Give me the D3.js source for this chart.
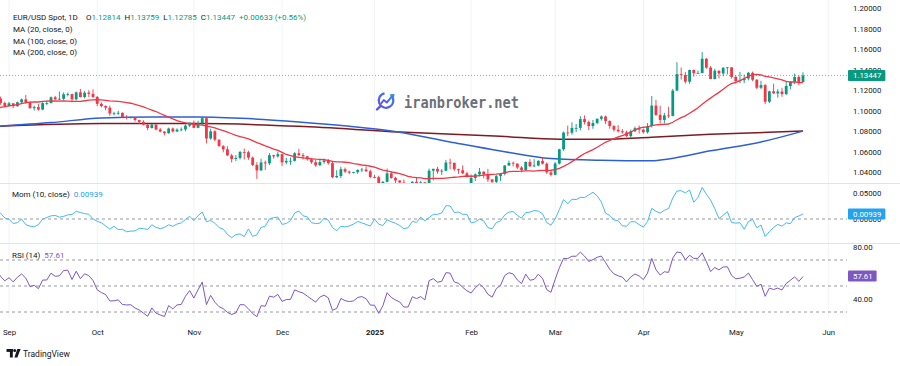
<!DOCTYPE html>
<html>
<head>
<meta charset="utf-8">
<script src="https://cdn.jsdelivr.net/npm/d3@7"></script>
<style>
  html, body { margin: 0; padding: 0; background: #fff; }
  svg { display: block; }
</style>
</head>
<body>
<div id="chart"></div>
<script>
// ---- data (EUR/USD daily) ----

// July 2024 closes, only used to warm up the indicators
const warmupCloses = [1.0740,1.0742,1.0790,1.0810,1.0840,1.0826,1.0813,1.0830,1.0865,1.0907,1.0895,1.0898,1.0937,1.0898,1.0884,1.0890,1.0845,1.0842,1.0851,1.0855,1.0818,1.0815,1.0826];

// one value per trading day, 2024-08-01 .. 2025-05-23 (one line per month)
const opens = [
  1.0826,1.0790,1.0911,1.0955,1.0930,1.0923,1.0919,1.0916,1.0932,1.0993,1.1012,1.0967,1.1028,1.1077,1.1130,1.1152,1.1112,1.1193,1.1161,1.1183,1.1119,1.1077,
  1.1047,1.1073,1.1045,1.1083,1.1111,1.1085,1.1026,1.1036,1.1012,1.1075,1.1076,1.1132,1.1113,1.1117,1.1161,1.1163,1.1112,1.1180,1.1134,1.1177,1.1165,
  1.1135,1.1068,1.1046,1.1030,1.0974,1.0975,1.0980,1.0940,1.0936,1.0937,1.0910,1.0892,1.0864,1.0832,1.0866,1.0817,1.0797,1.0781,1.0827,1.0798,1.0816,1.0818,1.0855,
  1.0884,1.0834,1.0879,1.0928,1.0730,1.0800,1.0718,1.0655,1.0624,1.0565,1.0530,1.0540,1.0598,1.0596,1.0543,1.0472,1.0418,1.0496,1.0487,1.0567,1.0555,
  1.0577,1.0497,1.0511,1.0512,1.0586,1.0568,1.0556,1.0527,1.0498,1.0468,1.0500,1.0513,1.0489,1.0352,1.0364,1.0430,1.0407,1.0397,1.0401,1.0422,1.0427,1.0410,
  1.0354,1.0352,1.0266,1.0307,1.0390,1.0345,1.0320,1.0300,1.0244,1.0245,1.0307,1.0290,1.0302,1.0273,1.0416,1.0434,1.0407,1.0415,1.0495,1.0492,1.0430,1.0420,1.0390,
  1.0240,1.0345,1.0380,1.0406,1.0380,1.0330,1.0307,1.0362,1.0385,1.0466,1.0492,1.0485,1.0447,1.0422,1.0501,1.0459,1.0466,1.0511,1.0484,1.0399,
  1.0376,1.0485,1.0624,1.0788,1.0786,1.0833,1.0833,1.0919,1.0890,1.0851,1.0881,1.0922,1.0944,1.0900,1.0851,1.0815,1.0800,1.0790,1.0753,1.0800,1.0830,
  1.0816,1.0791,1.0852,1.1051,1.0960,1.0911,1.0955,1.0950,1.1197,1.1357,1.1350,1.1284,1.1398,1.1367,1.1368,1.1508,1.1421,1.1310,1.1391,1.1364,1.1420,1.1424,
  1.1330,1.1290,1.1298,1.1315,1.1371,1.1303,1.1225,1.1251,1.1088,1.1190,1.1170,1.1188,1.1163,1.1242,1.1283,1.1330,1.12814
];
const highs = [
  1.0838,1.0926,1.1009,1.0971,1.0947,1.0945,1.0935,1.0943,1.0998,1.1047,1.1027,1.1047,1.1087,1.1135,1.1174,1.1171,1.1201,1.1202,1.1198,1.1189,1.1139,1.1090,
  1.1087,1.1075,1.1090,1.1120,1.1155,1.1090,1.1051,1.1067,1.1085,1.1101,1.1140,1.1145,1.1189,1.1180,1.1179,1.1167,1.1188,1.1214,1.1194,1.1201,1.1209,
  1.1144,1.1083,1.1054,1.1050,1.0990,1.0999,1.0985,1.0958,1.0945,1.0940,1.0912,1.0908,1.0870,1.0870,1.0868,1.0834,1.0801,1.0836,1.0837,1.0829,1.0838,1.0869,1.0885,
  1.0905,1.0903,1.0937,1.0937,1.0826,1.0810,1.0721,1.0665,1.0653,1.0581,1.0568,1.0608,1.0632,1.0610,1.0554,1.0498,1.0532,1.0515,1.0589,1.0571,1.0597,
  1.0580,1.0541,1.0545,1.0597,1.0630,1.0588,1.0560,1.0540,1.0520,1.0522,1.0535,1.0529,1.0512,1.0420,1.0455,1.0446,1.0417,1.0405,1.0430,1.0444,1.0458,1.0425,
  1.0375,1.0367,1.0314,1.0437,1.0406,1.0357,1.0323,1.0330,1.0260,1.0313,1.0353,1.0318,1.0305,1.0436,1.0434,1.0454,1.0432,1.0521,1.0533,1.0495,1.0436,1.0468,1.0405,
  1.0378,1.0390,1.0442,1.0410,1.0432,1.0335,1.0375,1.0385,1.0470,1.0514,1.0505,1.0485,1.0461,1.0505,1.0528,1.0528,1.0519,1.0544,1.0497,1.0420,
  1.0500,1.0630,1.0797,1.0855,1.0888,1.0871,1.0947,1.0955,1.0905,1.0911,1.0925,1.0955,1.0953,1.0907,1.0859,1.0860,1.0822,1.0807,1.0817,1.0846,1.0857,
  1.0826,1.0880,1.1144,1.1107,1.1050,1.0980,1.1040,1.1214,1.1474,1.1423,1.1379,1.1402,1.1402,1.1392,1.1573,1.1513,1.1436,1.1410,1.1394,1.1425,1.1426,1.1426,
  1.1347,1.1380,1.1353,1.1380,1.1382,1.1310,1.1293,1.1260,1.1196,1.1265,1.1212,1.1225,1.1287,1.1288,1.1363,1.1346,1.13759
];
const lows = [
  1.0777,1.0780,1.0881,1.0913,1.0902,1.0884,1.0906,1.0912,1.0925,1.0990,1.0948,1.0965,1.1024,1.1069,1.1106,1.1104,1.1102,1.1141,1.1147,1.1103,1.1059,1.1034,
  1.1043,1.1026,1.1040,1.1072,1.1070,1.1020,1.1002,1.1001,1.1005,1.1055,1.1071,1.1105,1.1101,1.1103,1.1141,1.1082,1.1101,1.1131,1.1120,1.1134,1.1124,
  1.1045,1.1033,1.1005,1.0950,1.0955,1.0960,1.0929,1.0915,1.0925,1.0895,1.0872,1.0857,1.0811,1.0828,1.0811,1.0790,1.0761,1.0777,1.0788,1.0793,1.0800,1.0800,1.0840,
  1.0831,1.0830,1.0861,1.0682,1.0718,1.0702,1.0650,1.0595,1.0560,1.0496,1.0509,1.0525,1.0524,1.0522,1.0461,1.0335,1.0415,1.0424,1.0471,1.0534,1.0543,
  1.0460,1.0478,1.0473,1.0505,1.0557,1.0525,1.0513,1.0482,1.0453,1.0464,1.0484,1.0474,1.0342,1.0343,1.0343,1.0392,1.0383,1.0390,1.0385,1.0401,1.0404,1.0343,
  1.0342,1.0226,1.0256,1.0301,1.0337,1.0283,1.0286,1.0214,1.0178,1.0234,1.0278,1.0270,1.0266,1.0265,1.0322,1.0386,1.0374,1.0410,1.0430,1.0414,1.0385,1.0382,1.0350,
  1.0141,1.0315,1.0360,1.0340,1.0305,1.0285,1.0286,1.0316,1.0370,1.0464,1.0457,1.0433,1.0400,1.0418,1.0450,1.0449,1.0458,1.0476,1.0385,1.0360,
  1.0370,1.0477,1.0611,1.0752,1.0766,1.0792,1.0808,1.0867,1.0812,1.0824,1.0870,1.0904,1.0870,1.0825,1.0797,1.0787,1.0777,1.0745,1.0733,1.0792,1.0778,
  1.0777,1.0778,1.0837,1.0950,1.0880,1.0875,1.0930,1.0946,1.1195,1.1304,1.1265,1.1264,1.1334,1.1365,1.1368,1.1410,1.1310,1.1306,1.1315,1.1336,1.1355,1.1315,
  1.1266,1.1270,1.1270,1.1297,1.1290,1.1212,1.1210,1.1065,1.1075,1.1166,1.1128,1.1137,1.1155,1.1210,1.1260,1.1250,1.12785
];
const closes = [
  1.0790,1.0911,1.0955,1.0930,1.0923,1.0919,1.0916,1.0932,1.0993,1.1012,1.0967,1.1028,1.1077,1.1130,1.1152,1.1112,1.1193,1.1161,1.1183,1.1119,1.1077,1.1047,
  1.1073,1.1045,1.1083,1.1111,1.1085,1.1026,1.1036,1.1012,1.1075,1.1076,1.1132,1.1113,1.1117,1.1161,1.1163,1.1112,1.1180,1.1134,1.1177,1.1165,1.1135,
  1.1068,1.1046,1.1030,1.0974,1.0975,1.0980,1.0940,1.0936,1.0937,1.0910,1.0892,1.0864,1.0832,1.0866,1.0817,1.0797,1.0781,1.0827,1.0798,1.0816,1.0818,1.0855,1.0884,
  1.0834,1.0879,1.0928,1.0730,1.0800,1.0718,1.0655,1.0624,1.0565,1.0530,1.0540,1.0598,1.0596,1.0543,1.0472,1.0418,1.0496,1.0487,1.0567,1.0555,1.0577,
  1.0497,1.0511,1.0512,1.0586,1.0568,1.0556,1.0527,1.0498,1.0468,1.0500,1.0513,1.0489,1.0352,1.0364,1.0430,1.0407,1.0397,1.0401,1.0422,1.0427,1.0410,1.0354,
  1.0352,1.0266,1.0307,1.0390,1.0345,1.0320,1.0300,1.0244,1.0245,1.0307,1.0290,1.0302,1.0273,1.0416,1.0434,1.0407,1.0415,1.0495,1.0492,1.0430,1.0420,1.0390,1.0362,
  1.0345,1.0380,1.0406,1.0380,1.0330,1.0307,1.0362,1.0385,1.0466,1.0492,1.0485,1.0447,1.0422,1.0501,1.0459,1.0466,1.0511,1.0484,1.0399,1.0376,
  1.0485,1.0624,1.0788,1.0786,1.0833,1.0833,1.0919,1.0890,1.0851,1.0881,1.0922,1.0944,1.0900,1.0851,1.0815,1.0800,1.0790,1.0753,1.0800,1.0830,1.0816,
  1.0791,1.0852,1.1051,1.0960,1.0911,1.0955,1.0950,1.1197,1.1357,1.1350,1.1284,1.1398,1.1367,1.1368,1.1508,1.1421,1.1310,1.1391,1.1364,1.1420,1.1424,1.1330,
  1.1290,1.1298,1.1315,1.1371,1.1303,1.1225,1.12508,1.1088,1.1190,1.1170,1.1188,1.1163,1.1242,1.1283,1.1330,1.12814,1.13447
];

// MA(100) and MA(200) at sample dates
const maDates100 = ["2024-08-28","2024-09-16","2024-10-02","2024-10-18","2024-11-04","2024-11-20","2024-12-06","2024-12-24","2025-01-07","2025-01-27","2025-02-12","2025-02-28","2025-03-18","2025-04-03","2025-04-09","2025-04-23","2025-05-09","2025-05-23"];
const ma100Vals  = [1.0848,1.0885,1.0930,1.0940,1.0940,1.0924,1.0891,1.0849,1.0803,1.0696,1.0608,1.0534,1.0517,1.0512,1.0530,1.0610,1.0696,1.0802];
const maDates200 = ["2024-08-28","2024-10-02","2024-11-04","2024-12-06","2025-01-09","2025-02-12","2025-03-04","2025-03-18","2025-04-03","2025-04-23","2025-05-23"];
const ma200Vals  = [1.0848,1.0875,1.0875,1.0849,1.0793,1.0751,1.0722,1.0722,1.0742,1.0771,1.0803];

const monthTicks  = ["2024-09-02","2024-10-01","2024-11-01","2024-12-02","2025-01-01","2025-02-03","2025-03-03","2025-04-01","2025-05-01","2025-06-02"];
const monthLabels = ["Sep","Oct","Nov","Dec","2025","Feb","Mar","Apr","May","Jun"];
const priceTicks = [1.02,1.04,1.06,1.08,1.10,1.12,1.14,1.16,1.18,1.20];
const momTicks = [0, 0.05];
const rsiTicks = [40, 60, 80];
const rsiBands = [70, 50, 30];
const rsiLast = 57.61;

// ---- layout ----
const W = 900, H = 366;
const plotRight = 847;
const mainBottom = 183, momBottom = 243, rsiBottom = 318;
const font = "Roboto, 'Noto Sans', sans-serif";
const dark = "#131722";
const upCol = "#089981", downCol = "#f23645";
const momCol = "#45b9f0", momBox = "#22a3f0";
const rsiCol = "#7e57c2";

// trading days (weekdays) from the first bar on
const fmtDay = d3.timeFormat("%Y-%m-%d");
const days = d3.timeDay.range(new Date(2024, 7, 1), new Date(2025, 5, 7))
  .filter(d => d.getDay() !== 0 && d.getDay() !== 6);
const dayIndex = new Map(days.map((d, i) => [fmtDay(d), i]));

const x = d3.scaleLinear()
  .domain([dayIndex.get("2024-09-02"), dayIndex.get("2025-05-23")])
  .range([9, 803]);
const y = d3.scaleLinear().domain([1.04, 1.20]).range([172.3, 8.3]);
const yMom = d3.scaleLinear().domain([0, 0.05]).range([219, 192.5]);
const yRsi = d3.scaleLinear().domain([30, 70]).range([312, 260]);

// ---- indicators ----
const allCloses = warmupCloses.concat(closes);
const off = warmupCloses.length;

const bars = closes.map((c, i) => ({ i, o: opens[i], h: highs[i], l: lows[i], c }));

const ma20 = bars.map(b => {
  const k = off + b.i;
  return { i: b.i, v: d3.mean(allCloses.slice(k - 19, k + 1)) };
});
const mom = bars.map(b => ({ i: b.i, v: allCloses[off + b.i] - allCloses[off + b.i - 10] }));

function rsi(src, len) {
  const out = new Array(src.length).fill(null);
  let up = 0, dn = 0;
  for (let k = 1; k < src.length; k++) {
    const ch = src[k] - src[k - 1];
    const u = Math.max(ch, 0), d = Math.max(-ch, 0);
    if (k <= len) {
      up += u; dn += d;
      if (k < len) continue;
      up /= len; dn /= len;
    } else {
      up = (up * (len - 1) + u) / len;
      dn = (dn * (len - 1) + d) / len;
    }
    out[k] = dn === 0 ? 100 : 100 - 100 / (1 + up / dn);
  }
  return out;
}
const rsiAll = rsi(allCloses, 14);
const rsiData = bars.map(b => ({ i: b.i, v: rsiAll[off + b.i] }));

// ---- svg ----
const svg = d3.select("#chart").append("svg")
  .attr("width", W).attr("height", H)
  .attr("font-family", font);

svg.append("rect").attr("width", W).attr("height", H).attr("fill", "#fff");

const defs = svg.append("defs");
function addClip(id, x0, y0, w, h) {
  defs.append("clipPath").attr("id", id)
    .append("rect").attr("x", x0).attr("y", y0).attr("width", w).attr("height", h);
}
addClip("cMain", 0, 0, plotRight, mainBottom);
addClip("cMom", 0, mainBottom, plotRight, momBottom - mainBottom);
addClip("cRsi", 0, momBottom, plotRight, rsiBottom - momBottom);
addClip("aMain", plotRight, 6, W - plotRight, mainBottom - 6);
addClip("aMom", plotRight, mainBottom, W - plotRight, momBottom - mainBottom);
addClip("aRsi", plotRight, momBottom, W - plotRight, rsiBottom - momBottom);

// vertical month grid
const tickIdx = monthTicks.map(d => dayIndex.get(d));
const grid = svg.append("g");
[[0, mainBottom], [mainBottom, momBottom], [momBottom, rsiBottom]].forEach(([t, b]) => {
  grid.selectAll(null).data(tickIdx).join("line")
    .attr("x1", d => x(d)).attr("x2", d => x(d))
    .attr("y1", t).attr("y2", b)
    .attr("stroke", "#f0f3fa").attr("stroke-width", 1);
});

// pane separators
svg.selectAll("line.sep").data([mainBottom, momBottom]).join("line")
  .attr("class", "sep")
  .attr("x1", 0).attr("x2", W)
  .attr("y1", d => d + 0.5).attr("y2", d => d + 0.5)
  .attr("stroke", "#e0e3eb");

// watermark
const wm = svg.append("g");
const grad = defs.append("linearGradient").attr("id", "wmGrad")
  .attr("x1", "0").attr("y1", "1").attr("x2", "1").attr("y2", "0");
grad.append("stop").attr("offset", "0").attr("stop-color", "#6a4fe0");
grad.append("stop").attr("offset", "1").attr("stop-color", "#2f86ee");
wm.append("path")
  .attr("transform", "translate(386,100.5)")
  .attr("d", d3.arc().innerRadius(6.2).outerRadius(8.4).startAngle(0.75).endAngle(2 * Math.PI - 0.2)())
  .attr("fill", "url(#wmGrad)");
wm.append("line").attr("x1", 380.2).attr("y1", 106.3).attr("x2", 377).attr("y2", 109.5)
  .attr("stroke", "#5a55e4").attr("stroke-width", 2.4).attr("stroke-linecap", "round");
wm.append("polyline").attr("points", "380.8,104 383.8,100 386.8,102.5 392,96.3")
  .attr("fill", "none").attr("stroke", "url(#wmGrad)").attr("stroke-width", 2)
  .attr("stroke-linejoin", "round");
wm.append("polygon").attr("points", "394.5,94 389.5,94.6 393.8,98.9").attr("fill", "#2f86ee");
wm.append("text").attr("x", 404).attr("y", 107.5)
  .attr("font-family", "'DejaVu Sans Mono', 'Liberation Mono', monospace")
  .attr("font-size", 15.5).attr("font-weight", 700).attr("fill", "#6c6f78")
  .attr("textLength", 115).attr("lengthAdjust", "spacingAndGlyphs")
  .text("iranbroker.net");

// ---- main pane ----
const main = svg.append("g").attr("clip-path", "url(#cMain)");

const line = (sx, sy) => d3.line().x(d => sx(d.i)).y(d => sy(d.v));

const ma200 = maDates200.map((d, k) => ({ i: dayIndex.get(d), v: ma200Vals[k] }));
const ma100 = maDates100.map((d, k) => ({ i: dayIndex.get(d), v: ma100Vals[k] }));

main.append("path").datum(ma200)
  .attr("d", line(x, y).curve(d3.curveMonotoneX))
  .attr("fill", "none").attr("stroke", "#801922").attr("stroke-width", 1.5);
main.append("path").datum(ma100)
  .attr("d", line(x, y).curve(d3.curveMonotoneX))
  .attr("fill", "none").attr("stroke", "#2f5fd6").attr("stroke-width", 1.5);

// current price line
const lastClose = closes[closes.length - 1];
main.append("line")
  .attr("x1", 0).attr("x2", plotRight)
  .attr("y1", y(lastClose)).attr("y2", y(lastClose))
  .attr("stroke", upCol).attr("stroke-opacity", 0.6)
  .attr("stroke-dasharray", "1,2");

// candles
const bw = 2.8;
const candles = main.append("g");
candles.selectAll("line").data(bars).join("line")
  .attr("x1", d => x(d.i)).attr("x2", d => x(d.i))
  .attr("y1", d => y(d.h)).attr("y2", d => y(d.l))
  .attr("stroke", d => d.c >= d.o ? upCol : downCol)
  .attr("stroke-width", 0.9);
candles.selectAll("rect").data(bars).join("rect")
  .attr("x", d => x(d.i) - bw / 2).attr("width", bw)
  .attr("y", d => y(Math.max(d.o, d.c)))
  .attr("height", d => Math.max(0.8, Math.abs(y(d.o) - y(d.c))))
  .attr("fill", d => d.c >= d.o ? upCol : downCol);

main.append("path").datum(ma20)
  .attr("d", line(x, y))
  .attr("fill", "none").attr("stroke", "#f23645").attr("stroke-width", 1.3);

// ---- momentum pane ----
const momG = svg.append("g").attr("clip-path", "url(#cMom)");
momG.append("line")
  .attr("x1", 0).attr("x2", plotRight)
  .attr("y1", yMom(0)).attr("y2", yMom(0))
  .attr("stroke", "#9598a1").attr("stroke-dasharray", "3,3");
momG.append("path").datum(mom)
  .attr("d", line(x, yMom))
  .attr("fill", "none").attr("stroke", momCol).attr("stroke-width", 1);

// ---- RSI pane ----
const rsiG = svg.append("g").attr("clip-path", "url(#cRsi)");
rsiG.selectAll("line").data(rsiBands).join("line")
  .attr("x1", 0).attr("x2", plotRight)
  .attr("y1", d => yRsi(d)).attr("y2", d => yRsi(d))
  .attr("stroke", "#9598a1").attr("stroke-dasharray", "3,3");
rsiG.append("path").datum(rsiData.filter(d => d.v !== null))
  .attr("d", line(x, yRsi))
  .attr("fill", "none").attr("stroke", rsiCol).attr("stroke-width", 1);

// ---- right axes ----
function rightAxis(scale, ticks, fmt, clip) {
  const outer = svg.append("g").attr("clip-path", `url(#${clip})`);
  const g = outer.append("g").attr("transform", `translate(${plotRight},0)`)
    .call(d3.axisRight(scale).tickValues(ticks).tickFormat(fmt).tickSize(0).tickPadding(6));
  g.select(".domain").remove();
  g.attr("font-family", font).attr("font-size", 7.8);
  g.selectAll("text").attr("fill", dark);
  return outer;
}
rightAxis(y, priceTicks, d3.format(".5f"), "aMain");
rightAxis(yMom, momTicks, d3.format(".5f"), "aMom");
rightAxis(yRsi, rsiTicks, d3.format(".2f"), "aRsi");

function valueTag(yPos, label, color) {
  const g = svg.append("g");
  const t = g.append("text").attr("x", plotRight + 6).attr("y", yPos)
    .attr("dominant-baseline", "central")
    .attr("font-size", 7.8).attr("fill", "#fff").text(label);
  const w = t.node().getComputedTextLength();
  g.insert("rect", "text")
    .attr("x", plotRight + 1).attr("y", yPos - 5.5)
    .attr("width", w + 9).attr("height", 11).attr("rx", 1)
    .attr("fill", color);
}
const fmt5 = d3.format(".5f");
const momLast = mom[mom.length - 1].v;
valueTag(y(lastClose), fmt5(lastClose), upCol);
valueTag(yMom(momLast), fmt5(momLast), momBox);
valueTag(yRsi(rsiLast), rsiLast.toFixed(2), rsiCol);

// ---- time axis ----
const tg = svg.append("g").attr("transform", "translate(0,327)")
  .call(d3.axisBottom(x).tickValues(tickIdx).tickFormat((d, k) => monthLabels[k]).tickSize(0).tickPadding(2));
tg.select(".domain").remove();
tg.attr("font-family", font).attr("font-size", 7.8);
tg.selectAll("text").attr("fill", dark)
  .attr("font-weight", (d, k) => monthLabels[k] === "2025" ? 700 : 400);

// ---- legends ----
const legFs = 8;
const lastBar = bars[bars.length - 1];
const prevClose = closes[closes.length - 2];
const change = lastClose - prevClose;
const leg = svg.append("text").attr("x", 13).attr("y", 17)
  .attr("dominant-baseline", "central").attr("font-size", legFs).attr("fill", dark);
leg.append("tspan").text("EUR/USD Spot, 1D");
[["O", lastBar.o], ["H", lastBar.h], ["L", lastBar.l], ["C", lastBar.c]].forEach(([k, v], j) => {
  leg.append("tspan").attr("dx", j === 0 ? 8 : 4).text(k);
  leg.append("tspan").attr("fill", upCol).text(fmt5(v));
});
leg.append("tspan").attr("dx", 4).attr("fill", upCol)
  .text(`${d3.format("+.5f")(change)} (${d3.format("+.2%")(change / prevClose)})`);

const maLabels = ["MA (20, close, 0)", "MA (100, close, 0)", "MA (200, close, 0)"];
svg.selectAll("text.ma").data(maLabels).join("text")
  .attr("class", "ma")
  .attr("x", 13).attr("y", (d, k) => 29.3 + k * 11.7)
  .attr("dominant-baseline", "central").attr("font-size", legFs).attr("fill", dark)
  .text(d => d);

const momLeg = svg.append("text").attr("x", 12).attr("y", 194)
  .attr("dominant-baseline", "central").attr("font-size", legFs).attr("fill", dark);
momLeg.append("tspan").text("Mom (10, close)");
momLeg.append("tspan").attr("dx", 4).attr("fill", momBox).text(fmt5(momLast));

const rsiLeg = svg.append("text").attr("x", 12).attr("y", 254.8)
  .attr("dominant-baseline", "central").attr("font-size", legFs).attr("fill", dark);
rsiLeg.append("tspan").text("RSI (14)");
rsiLeg.append("tspan").attr("dx", 4).attr("fill", rsiCol).text(rsiLast.toFixed(2));

// ---- TradingView mark ----
const tv = svg.append("g").attr("fill", dark);
tv.append("rect").attr("x", 6.5).attr("y", 349).attr("width", 6.3).attr("height", 2.9);
tv.append("rect").attr("x", 9.9).attr("y", 349).attr("width", 2.9).attr("height", 8.5);
tv.append("circle").attr("cx", 14.7).attr("cy", 350.5).attr("r", 1.5);
tv.append("polygon").attr("points", "17.3,349 20.6,349 17.4,357.5 14.4,357.5");
svg.append("text").attr("x", 23).attr("y", 353.5)
  .attr("dominant-baseline", "central").attr("font-size", 8.5).attr("fill", dark)
  .text("TradingView");
</script>
</body>
</html>
